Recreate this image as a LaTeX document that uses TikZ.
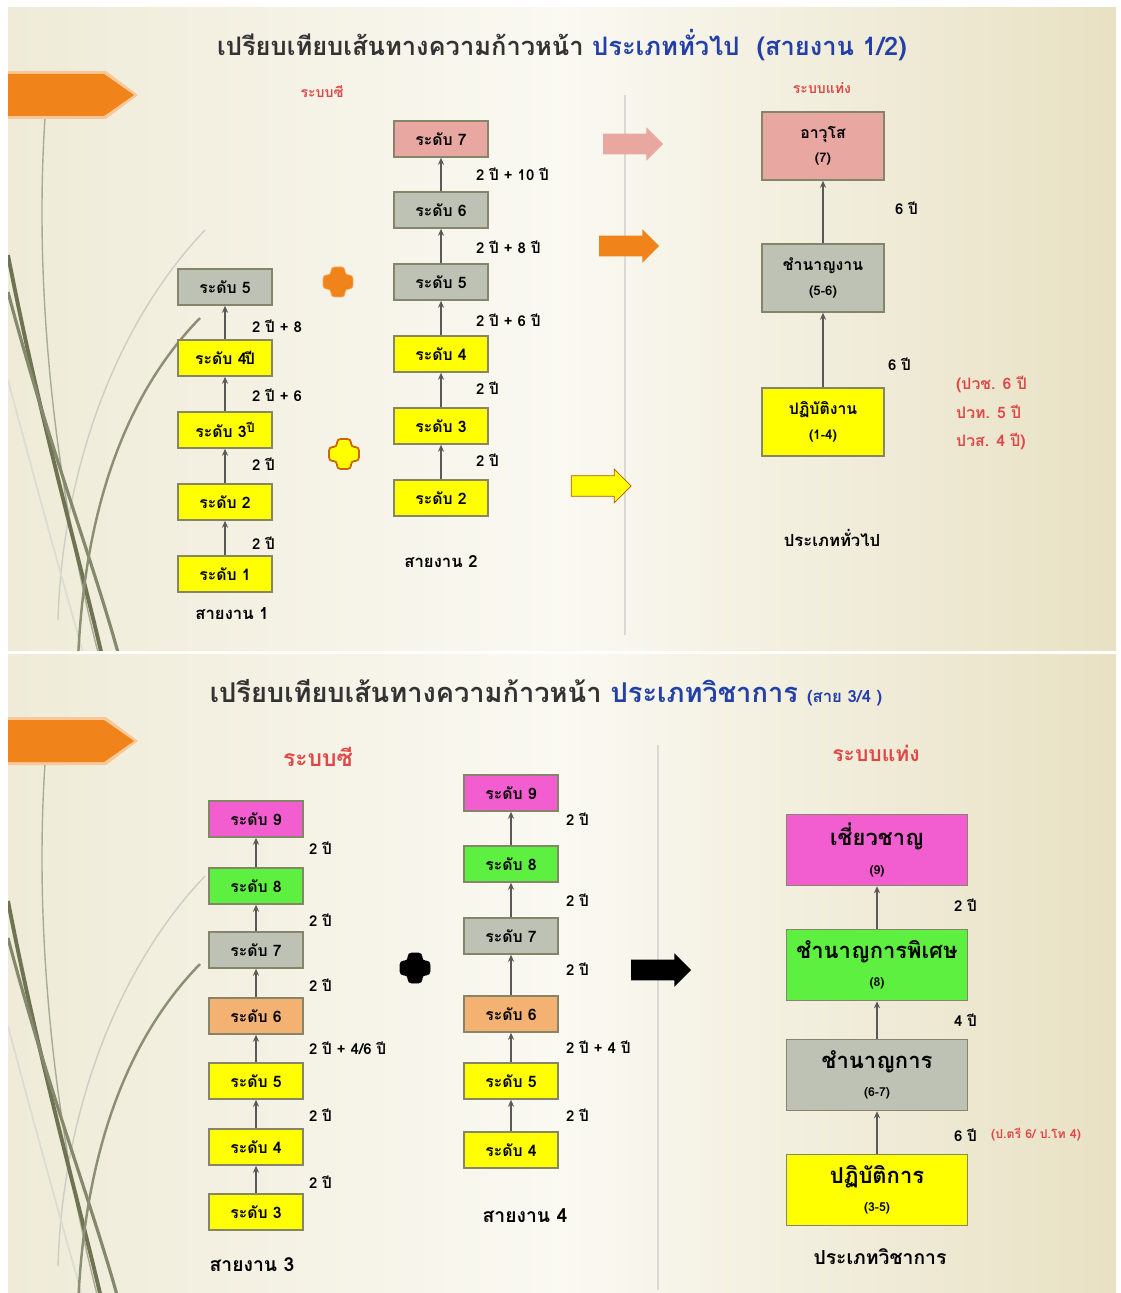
\documentclass[tikz,border=0pt]{standalone}
\usepackage{fontspec}
\newfontfamily\thaifont[Script=Thai]{Loma}
\usetikzlibrary{arrows.meta, shapes.arrows}
\definecolor{yelbox}{HTML}{FFFF00}
\definecolor{graybox}{HTML}{BEC2B4}
\definecolor{pinkbox}{HTML}{E9A7A2}
\definecolor{magbox}{HTML}{F25ED0}
\definecolor{grnbox}{HTML}{5EF040}
\definecolor{peachbox}{HTML}{F4B272}
\definecolor{boxline}{HTML}{85856A}
\definecolor{notered}{HTML}{E04848}
\definecolor{ttlblue}{HTML}{2340A8}
\definecolor{tabor}{HTML}{F0841A}
\definecolor{grass}{HTML}{6E7452}
\definecolor{slideL}{HTML}{EFEBD8}
\definecolor{slideM}{HTML}{FAF9F2}
\definecolor{slideR}{HTML}{E8E1C4}
\newcommand\plusmark[3]{\filldraw[#3,rounded corners=2pt] (#1-7,#2-15) -- (#1+7,#2-15) -- (#1+7,#2-7) -- (#1+15,#2-7) -- (#1+15,#2+7) -- (#1+7,#2+7) -- (#1+7,#2+15) -- (#1-7,#2+15) -- (#1-7,#2+7) -- (#1-15,#2+7) -- (#1-15,#2-7) -- (#1-7,#2-7) -- cycle;}

\begin{document}
\begin{tikzpicture}[x=0.02cm,y=-0.02cm,
  lvl/.style={draw=boxline,line width=0.9pt,minimum width=1.88cm,minimum height=0.72cm,inner sep=1pt,font=\thaifont\bfseries\fontsize{9}{10}\selectfont},
  rank/.style={lvl,minimum width=2.44cm,minimum height=1.36cm,align=center},
  bigrank/.style={lvl,minimum width=3.62cm,minimum height=1.42cm,align=center,font=\thaifont\bfseries\fontsize{12.5}{16}\selectfont},
  up/.style={-{Stealth[length=4pt,width=3.5pt]},draw=black!65,line width=0.9pt},
  gap/.style={anchor=west,inner sep=1pt,font=\thaifont\bfseries\fontsize{8.5}{10}\selectfont},
  note/.style={anchor=west,text=notered,align=left,font=\thaifont\bfseries\fontsize{9}{16}\selectfont},
  lanecap/.style={font=\thaifont\bfseries\fontsize{9.5}{11}\selectfont},
  sysname/.style={text=notered,font=\thaifont\bfseries\fontsize{8}{10}\selectfont},
  fat/.style={single arrow,single arrow head extend=0.13cm,minimum height=1.2cm,inner sep=0.2cm}]
\useasboundingbox (0,0) rectangle (1120,1293);
\fill[white] (0,0) rectangle (1120,1293);
% two slides
\foreach \s/\h in {0/642,646/639} {
\begin{scope}[shift={(0,\s)}]
\shade[left color=slideL,right color=slideR,middle color=slideM] (8,8) rectangle (1116,8+\h);
\begin{scope}
\clip (8,8) rectangle (1116,8+\h);
\draw[grass!60,line width=0.8pt] (45,118) .. controls (33,300) and (58,500) .. (100,660);
\draw[grass!35,line width=0.8pt] (205,230) .. controls (110,330) and (62,480) .. (58,620);
\draw[grass!25,line width=1pt] (8,380) .. controls (40,500) and (68,600) .. (85,660);
\draw[grass,line width=2.2pt] (8,255) .. controls (40,420) and (80,560) .. (103,660);
\draw[grass!85,line width=1.8pt] (8,292) .. controls (50,450) and (96,570) .. (120,660);
\draw[grass!80,line width=1.4pt] (200,318) .. controls (120,400) and (84,520) .. (78,660);
\end{scope}
\fill[tabor!45] (8,71) -- (106,71) -- (138,95) -- (106,119) -- (8,119) -- cycle;
\fill[tabor] (8,74) -- (104,74) -- (134,95) -- (104,116) -- (8,116) -- cycle;
\end{scope}
}
% slide 1: general type
\node[font=\thaifont\bfseries\fontsize{14.5}{18}\selectfont,text=black!80] (titleA) at (562,45) {เปรียบเทียบเส้นทางความก้าวหน้า \textcolor{ttlblue}{ประเภททั่วไป\ \ (สายงาน 1/2)}};
\node[sysname] (cA) at (322,92) {ระบบซี};
\node[sysname] (bA) at (822,88) {ระบบแท่ง};
\draw[black!15,line width=1.5pt] (625,95) -- (625,635);
\foreach \n/\y/\c/\t in {1/574/yelbox/{ระดับ 1},2/502/yelbox/{ระดับ 2},3/430/yelbox/{ระดับ 3\raisebox{3pt}{\scriptsize ปี}},4/358/yelbox/{ระดับ 4\kern-1pt ปี},5/287/graybox/{ระดับ 5}}
  \node[lvl,fill=\c] (one\n) at (225,\y) {\t};
\foreach \a/\b in {1/2,2/3,3/4,4/5} \draw[up] (one\a) -- (one\b);
\foreach \y/\t in {326/{2 ปี + 8},395/{2 ปี + 6},464/{2 ปี},543/{2 ปี}}
  \node[gap] (onegap\y) at (250,\y) {\t};
\node[lanecap] (lineone) at (232,614) {สายงาน 1};
\foreach \n/\y/\c in {7/139/pinkbox,6/210/graybox,5/282/graybox,4/354/yelbox,3/426/yelbox,2/498/yelbox}
  \node[lvl,fill=\c] (two\n) at (441,\y) {ระดับ \n};
\foreach \a/\b in {2/3,3/4,4/5,5/6,6/7} \draw[up] (two\a) -- (two\b);
\foreach \y/\t in {174/{2 ปี + 10 ปี},247/{2 ปี + 8 ปี},320/{2 ปี + 6 ปี},388/{2 ปี},460/{2 ปี}}
  \node[gap] (twogap\y) at (474,\y) {\t};
\node[lanecap] (linetwo) at (441,562) {สายงาน 2};
\plusmark{338}{282}{draw=tabor!70,fill=tabor}
\plusmark{344}{454}{draw=orange!80!black,fill=yelbox,line width=1pt}
\node[fat,fill=pinkbox] (toSenior) at (628,144) {};
\node[fat,fill=tabor] (toSkilled) at (624,246) {};
\node[fat,fill=yelbox,draw=orange!70!black] (toOperate) at (596,486) {};
\node[rank,fill=pinkbox] (senior) at (823,146) {อาวุโส\\[4pt]{\fontsize{7.5}{9}\selectfont(7)}};
\node[rank,fill=graybox] (skilled) at (823,278) {ชำนาญงาน\\[4pt]{\fontsize{7.5}{9}\selectfont(5-6)}};
\node[rank,fill=yelbox] (operate) at (823,422) {ปฏิบัติงาน\\[4pt]{\fontsize{7.5}{9}\selectfont(1-4)}};
\draw[up] (skilled) -- (senior);
\draw[up] (operate) -- (skilled);
\node[gap] (gapsen) at (893,208) {6 ปี};
\node[gap] (gapskl) at (886,364) {6 ปี};
\node[note] (edunote) at (950,413) {(ปวช. 6 ปี\\ปวท. 5 ปี\\ปวส. 4 ปี)};
\node[lanecap] (typeA) at (832,538) {ประเภททั่วไป};
% slide 2: academic type
\node[font=\thaifont\bfseries\fontsize{15.5}{19}\selectfont,text=black!80] (titleB) at (546,693) {เปรียบเทียบเส้นทางความก้าวหน้า \textcolor{ttlblue}{ประเภทวิชาการ {\fontsize{9.5}{12}\selectfont(สาย 3/4 )}}};
\node[sysname,font=\thaifont\bfseries\fontsize{13}{15}\selectfont] (cB) at (318,757) {ระบบซี};
\node[sysname,font=\thaifont\bfseries\fontsize{12}{14}\selectfont] (bB) at (876,753) {ระบบแท่ง};
\draw[black!15,line width=1.5pt] (658,745) -- (658,1290);
\foreach \n/\y/\c in {9/819/magbox,8/886/grnbox,7/950/graybox,6/1016/peachbox,5/1081/yelbox,4/1147/yelbox,3/1212/yelbox}
  \node[lvl,fill=\c] (three\n) at (256,\y) {ระดับ \n};
\foreach \a/\b in {3/4,4/5,5/6,6/7,7/8,8/9} \draw[up] (three\a) -- (three\b);
\foreach \y/\t in {848/{2 ปี},920/{2 ปี},985/{2 ปี},1048/{2 ปี + 4/6 ปี},1115/{2 ปี},1182/{2 ปี}}
  \node[gap] (threegap\y) at (307,\y) {\t};
\node[lanecap,font=\thaifont\bfseries\fontsize{11}{13}\selectfont] (linethree) at (252,1265) {สายงาน 3};
\foreach \n/\y/\c in {9/793/magbox,8/864/grnbox,7/936/graybox,6/1014/peachbox,5/1081/yelbox,4/1150/yelbox}
  \node[lvl,fill=\c] (four\n) at (511,\y) {ระดับ \n};
\foreach \a/\b in {4/5,5/6,6/7,7/8,8/9} \draw[up] (four\a) -- (four\b);
\foreach \y/\t in {819/{2 ปี},900/{2 ปี},969/{2 ปี},1047/{2 ปี + 4 ปี},1115/{2 ปี}}
  \node[gap] (fourgap\y) at (564,\y) {\t};
\node[lanecap,font=\thaifont\bfseries\fontsize{11}{13}\selectfont] (linefour) at (525,1216) {สายงาน 4};
\plusmark{415}{968}{fill=black}
\node[fat,fill=black] (toAcad) at (656,970) {};
\node[bigrank,fill=magbox] (expert) at (877,850) {เชี่ยวชาญ\\{\fontsize{7}{9}\selectfont(9)}};
\node[bigrank,fill=grnbox] (senpro) at (877,965) {ชำนาญการพิเศษ\\{\fontsize{7}{9}\selectfont(8)}};
\node[bigrank,fill=graybox] (pro) at (877,1075) {ชำนาญการ\\{\fontsize{7}{9}\selectfont(6-7)}};
\node[bigrank,fill=yelbox] (practit) at (877,1190) {ปฏิบัติการ\\{\fontsize{7}{9}\selectfont(3-5)}};
\draw[up] (senpro) -- (expert);
\draw[up] (pro) -- (senpro);
\draw[up] (practit) -- (pro);
\node[gap] (gapexp) at (952,905) {2 ปี};
\node[gap] (gapsnp) at (952,1020) {4 ปี};
\node[gap] (gappro) at (952,1135) {6 ปี};
\node[anchor=west,text=notered,font=\thaifont\bfseries\fontsize{7}{9}\selectfont] (degnote) at (985,1135) {(ป.ตรี 6/ ป.โท 4)};
\node[lanecap,font=\thaifont\bfseries\fontsize{11}{13}\selectfont] (typeB) at (880,1257) {ประเภทวิชาการ};
\end{tikzpicture}
\end{document}
